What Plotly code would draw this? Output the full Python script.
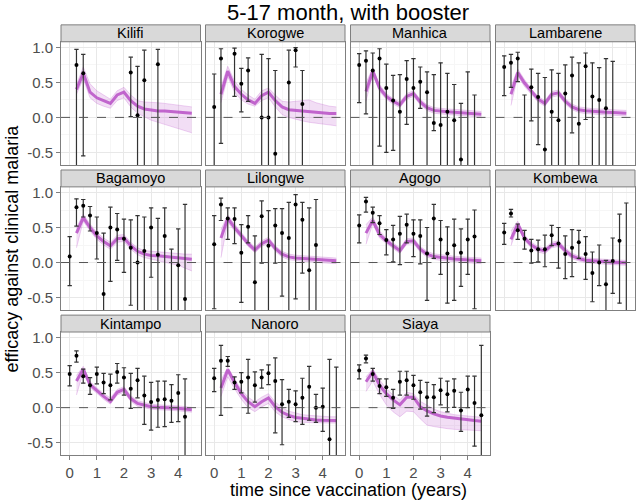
import plotly.graph_objects as go

W, H = 638, 500

sites = ["Kilifi", "Korogwe", "Manhica", "Lambarene",
         "Bagamoyo", "Lilongwe", "Agogo", "Kombewa",
         "Kintampo", "Nanoro", "Siaya"]

# time grid of the model fit (years since vaccination)
fit_t = [0.25, 0.5, 0.75, 1.0, 1.25, 1.5, 1.75, 2.0, 2.25, 2.5, 2.75, 3.0,
         3.25, 3.5, 3.75, 4.0, 4.25, 4.5]

# observed efficacy per site: time, estimate, lower, upper
kilifi_t = [0.25, 0.5, 2.25, 2.5, 2.75, 3.25]
kilifi_eff = [0.75, 0.63, 0.64, 0.03, 0.53, 0.76]
kilifi_lo = [-1.0, -0.55, 0.01, -1.0, -1.0, -1.0]
kilifi_hi = [0.97, 0.90, 0.86, 0.73, 0.96, 0.97]

korogwe_t = [0, 0.25, 0.75, 1.0, 1.25, 1.75, 2.0, 2.25, 2.75, 3.0, 3.25]
korogwe_eff = [0.15, 0.84, 0.91, 0.48, 0.67, 0.0, 0.0, -0.52, 0.50, 0.96, 0.19]
korogwe_lo = [-1.0, -0.37, 0.30, 0.08, 0.23, -1.0, -1.0, -1.0, -1.0, 0.72, -1.0]
korogwe_hi = [0.62, 0.98, 0.99, 0.70, 0.85, 0.90, 0.84, 0.67, 0.96, 0.995, 0.67]

manhica_t = [0, 0.25, 0.5, 0.75, 1.0, 1.25, 1.5, 1.75, 2.0, 2.25, 2.5, 2.75,
             3.0, 3.25, 3.5, 3.75, 4.0, 4.25]
manhica_eff = [0.75, 0.81, 0.67, 0.84, 0.42, 0.24, 0.08, 0.55, 0.42, 0.51, 0.36,
               -0.08, -0.11, 0.08, -0.04, -0.60, -0.75, -0.75]
manhica_lo = [0.21, 0.05, -1.0, -0.41, -0.50, -0.47, -1.0, -0.10, -1.0, 0.13, -1.0,
              -0.19, -1.0, -1.0, -1.0, -1.0, -1.5, -1.5]
manhica_hi = [0.91, 0.95, 0.92, 0.98, 0.76, 0.60, 0.61, 0.81, 0.84, 0.72, 0.65,
              0.61, 0.78, 0.63, 0.47, 0.20, 0.65, 0.32]

lambarene_t = [0, 0.25, 0.5, 0.75, 1.0, 1.25, 1.5, 1.75, 2.0, 2.25, 2.5, 2.75,
               3.0, 3.25, 3.5, 3.75, 4.0]
lambarene_eff = [0.72, 0.78, 0.84, -0.80, 0.43, 0.29, -0.46, 0.08, -0.04, 0.34, 0.60,
                 -0.09, 0.73, 0.30, 0.25, 0.13, -0.75]
lambarene_lo = [0.31, 0.43, 0.51, -1.5, -0.05, -0.39, -1.0, -1.0, -1.0, -1.0, -0.22,
                -1.0, -0.03, -1.0, -1.0, -1.0, -1.5]
lambarene_hi = [0.88, 0.90, 0.93, 0.32, 0.69, 0.63, 0.57, 0.68, 0.63, 0.75, 0.86,
                0.78, 0.92, 0.78, 0.71, 0.84, 0.80]

bagamoyo_t = [0, 0.25, 0.5, 0.75, 1.0, 1.25, 1.5, 1.75, 2.0, 2.25, 2.5, 2.75,
              3.0, 3.25, 3.5, 3.75, 4.0, 4.25]
bagamoyo_eff = [0.085, 0.79, 0.81, 0.67, 0.42, -0.45, 0.50, 0.47, 0.34, 0.21, 0.0,
                0.165, 0.50, 0.11, 0.38, -0.75, -0.04, -0.52]
bagamoyo_lo = [-0.33, 0.52, 0.65, 0.45, 0.05, -1.0, -0.27, 0.03, -0.14, -0.61, -1.0,
               -1.0, -0.21, -1.0, -1.0, -1.5, -1.0, -1.0]
bagamoyo_hi = [0.37, 0.91, 0.90, 0.80, 0.65, 0.42, 0.79, 0.70, 0.62, 0.61, 0.67,
               0.65, 0.78, 0.63, 0.78, 0.19, 0.48, 0.83]

lilongwe_t = [0, 0.25, 0.5, 0.75, 1.0, 1.25, 1.5, 1.75, 2.0, 2.25, 2.5, 2.75,
              3.0, 3.25, 3.5, 3.75]
lilongwe_eff = [0.26, 0.83, 0.63, 0.62, 0.14, 0.51, -0.28, 0.66, 0.24, 0.53, 0.42,
                0.35, 0.83, 0.61, -0.11, 0.25]
lilongwe_lo = [-0.66, 0.60, 0.33, 0.27, -0.57, 0.28, -1.0, -0.01, -1.0, -0.01, -0.48,
               -1.0, -0.52, -0.15, -1.0, -1.0]
lilongwe_hi = [0.67, 0.92, 0.78, 0.78, 0.54, 0.67, 0.38, 0.88, 0.74, 0.77, 0.77,
               0.86, 0.97, 0.86, 0.78, 0.90]

agogo_t = [0, 0.25, 0.5, 0.75, 1.0, 1.25, 1.5, 1.75, 2.0, 2.25, 2.5, 2.75,
           3.0, 3.25, 3.5, 3.75, 4.0, 4.25]
agogo_eff = [0.53, 0.87, 0.71, 0.56, 0.32, 0.33, 0.41, 0.54, 0.41, 0.38, 0.13,
             0.63, 0.33, 0.13, 0.245, 0.14, 0.33, 0.37]
agogo_lo = [0.28, 0.72, 0.57, 0.40, 0.11, 0.01, -0.03, 0.28, 0.085, -0.02, -0.54,
            0.06, -0.17, -0.58, -0.54, -0.34, -0.17, -0.66]
agogo_hi = [0.68, 0.93, 0.79, 0.67, 0.47, 0.53, 0.66, 0.69, 0.61, 0.61, 0.50,
            0.83, 0.60, 0.51, 0.62, 0.48, 0.62, 0.75]

kombewa_t = [0, 0.25, 0.5, 0.75, 1.0, 1.25, 1.5, 1.75, 2.0, 2.25, 2.5, 2.75,
             3.0, 3.25, 3.5, 3.75, 4.0, 4.25, 4.5]
kombewa_eff = [0.43, 0.70, 0.46, 0.34, 0.17, 0.19, 0.19, 0.39, 0.27, 0.12, 0.21,
               0.29, 0.12, -0.15, 0.0, -0.31, 0.02, 0.31, -0.80]
kombewa_lo = [0.26, 0.65, 0.33, 0.19, -0.01, 0.01, -0.06, 0.24, -0.08, -0.23, -0.20,
              0.06, -0.24, -0.56, -0.33, -1.0, -0.44, -0.58, -1.5]
kombewa_hi = [0.56, 0.76, 0.55, 0.46, 0.33, 0.32, 0.39, 0.53, 0.50, 0.38, 0.47,
              0.46, 0.37, 0.15, 0.25, 0.03, 0.35, 0.69, 0.85]

kintampo_t = [0, 0.25, 0.5, 0.75, 1.0, 1.25, 1.5, 1.75, 2.0, 2.25, 2.5, 2.75,
              3.0, 3.25, 3.5, 3.75, 4.0, 4.25]
kintampo_eff = [0.48, 0.74, 0.45, 0.32, 0.48, 0.36, 0.32, 0.51, 0.43, 0.27, 0.39,
                0.175, 0.08, 0.11, 0.12, 0.10, 0.21, -0.13]
kintampo_lo = [0.31, 0.65, 0.35, 0.19, 0.34, 0.20, 0.11, 0.35, 0.18, -0.01, 0.14,
               -0.24, -0.32, -0.28, -0.27, -0.21, -0.20, -1.0]
kintampo_hi = [0.60, 0.81, 0.55, 0.43, 0.58, 0.49, 0.48, 0.63, 0.57, 0.49, 0.56,
               0.45, 0.36, 0.38, 0.38, 0.33, 0.47, 0.41]

nanoro_t = [0, 0.25, 0.5, 0.75, 1.0, 1.25, 1.5, 1.75, 2.0, 2.25, 2.5, 2.75,
            3.0, 3.25, 3.5, 3.75, 4.0, 4.25, 4.5]
nanoro_eff = [0.42, 0.67, 0.67, 0.36, 0.37, 0.43, 0.32, 0.43, 0.49, 0.38, 0.05,
              0.085, 0.05, 0.14, 0.30, 0.0, 0.014, -0.45, -0.80]
nanoro_lo = [0.23, -0.11, 0.59, 0.26, 0.21, -0.08, 0.08, 0.28, 0.33, -0.36, -0.53,
             -0.14, -0.20, -0.24, -0.18, -0.21, -0.34, -1.0, -1.5]
nanoro_hi = [0.56, 0.89, 0.73, 0.44, 0.50, 0.69, 0.51, 0.54, 0.61, 0.71, 0.40,
             0.26, 0.24, 0.42, 0.59, 0.19, 0.28, 0.69, 0.58]

siaya_t = [0, 0.25, 0.5, 0.75, 1.0, 1.25, 1.5, 1.75, 2.0, 2.25, 2.5, 2.75,
           3.0, 3.25, 3.5, 3.75, 4.0, 4.25, 4.5]
siaya_eff = [0.53, 0.70, 0.48, 0.31, 0.29, 0.14, 0.37, 0.39, 0.32, 0.22, 0.15,
             0.15, 0.25, 0.19, 0.24, -0.04, 0.26, 0.066, -0.11]
siaya_lo = [0.41, 0.64, 0.38, 0.20, 0.16, -0.01, 0.18, 0.18, 0.12, -0.02, -0.12,
            -0.07, 0.04, -0.06, 0.005, -0.34, 0.0, -0.55, -1.0]
siaya_hi = [0.61, 0.75, 0.56, 0.41, 0.41, 0.26, 0.52, 0.52, 0.46, 0.39, 0.36,
            0.33, 0.42, 0.38, 0.41, 0.22, 0.45, 0.45, 0.89]

# model fit per site: mean, lower and upper band on fit_t
kilifi_fit = [0.40, 0.63, 0.36, 0.28, 0.24, 0.20, 0.32, 0.36, 0.24, 0.16, 0.12, 0.10,
              0.09, 0.09, 0.085, 0.08, 0.065, 0.06]
kilifi_fit_lo = [0.33, 0.55, 0.28, 0.20, 0.16, 0.13, 0.24, 0.28, 0.15, 0.06, 0.01, -0.04,
                 -0.07, -0.10, -0.13, -0.16, -0.19, -0.22]
kilifi_fit_hi = [0.47, 0.72, 0.48, 0.38, 0.32, 0.26, 0.38, 0.43, 0.32, 0.24, 0.22, 0.22,
                 0.21, 0.20, 0.19, 0.18, 0.16, 0.15]

korogwe_fit = [0.33, 0.66, 0.44, 0.33, 0.25, 0.20, 0.31, 0.36, 0.24, 0.15, 0.11, 0.10,
               0.095, 0.09, 0.075, 0.06, 0.055, 0.055]
korogwe_fit_lo = [0.21, 0.58, 0.36, 0.25, 0.19, 0.16, 0.24, 0.28, 0.15, 0.04, 0.0, -0.03,
                  -0.05, -0.07, -0.08, -0.10, -0.11, -0.12]
korogwe_fit_hi = [0.44, 0.73, 0.52, 0.40, 0.32, 0.26, 0.38, 0.42, 0.32, 0.23, 0.22, 0.23,
                  0.24, 0.25, 0.21, 0.18, 0.16, 0.15]

manhica_fit = [0.37, 0.66, 0.42, 0.30, 0.23, 0.18, 0.30, 0.34, 0.22, 0.14, 0.10, 0.085,
               0.08, 0.075, 0.065, 0.055, 0.05, 0.045]
manhica_fit_lo = [0.23, 0.61, 0.37, 0.26, 0.19, 0.14, 0.26, 0.30, 0.18, 0.10, 0.06, 0.045,
                  0.04, 0.035, 0.025, 0.015, 0.01, 0.005]
manhica_fit_hi = [0.49, 0.71, 0.47, 0.34, 0.27, 0.22, 0.34, 0.38, 0.26, 0.18, 0.14, 0.125,
                  0.12, 0.115, 0.105, 0.095, 0.09, 0.085]

lambarene_fit = [0.33, 0.64, 0.49, 0.37, 0.26, 0.20, 0.33, 0.35, 0.23, 0.15, 0.11, 0.095,
                 0.085, 0.08, 0.075, 0.07, 0.065, 0.06]
lambarene_fit_lo = [0.17, 0.59, 0.44, 0.33, 0.22, 0.16, 0.29, 0.31, 0.19, 0.11, 0.07, 0.055,
                    0.045, 0.04, 0.035, 0.03, 0.025, 0.02]
lambarene_fit_hi = [0.44, 0.69, 0.54, 0.41, 0.30, 0.24, 0.37, 0.39, 0.27, 0.19, 0.15, 0.135,
                    0.125, 0.12, 0.115, 0.11, 0.105, 0.10]

bagamoyo_fit = [0.42, 0.64, 0.50, 0.38, 0.30, 0.24, 0.34, 0.35, 0.24, 0.16, 0.12, 0.10,
                0.095, 0.085, 0.075, 0.06, 0.05, 0.047]
bagamoyo_fit_lo = [0.21, 0.59, 0.45, 0.33, 0.25, 0.19, 0.29, 0.30, 0.19, 0.11, 0.07, 0.05,
                   0.03, 0.01, -0.01, -0.04, -0.08, -0.12]
bagamoyo_fit_hi = [0.50, 0.69, 0.55, 0.43, 0.35, 0.29, 0.39, 0.40, 0.29, 0.21, 0.17, 0.16,
                   0.16, 0.15, 0.14, 0.13, 0.12, 0.12]

lilongwe_fit = [0.35, 0.63, 0.50, 0.39, 0.27, 0.18, 0.27, 0.32, 0.20, 0.12, 0.08, 0.065,
                0.057, 0.052, 0.042, 0.033, 0.028, 0.024]
lilongwe_fit_lo = [0.07, 0.58, 0.45, 0.35, 0.23, 0.14, 0.23, 0.28, 0.16, 0.08, 0.04, 0.025,
                   0.017, 0.012, 0.002, -0.007, -0.012, -0.016]
lilongwe_fit_hi = [0.47, 0.68, 0.55, 0.43, 0.31, 0.22, 0.31, 0.36, 0.24, 0.16, 0.12, 0.105,
                   0.097, 0.092, 0.082, 0.073, 0.068, 0.064]

agogo_fit = [0.42, 0.60, 0.40, 0.31, 0.24, 0.17, 0.30, 0.31, 0.19, 0.12, 0.085, 0.07,
             0.06, 0.05, 0.042, 0.033, 0.028, 0.024]
agogo_fit_lo = [0.26, 0.55, 0.35, 0.27, 0.20, 0.13, 0.26, 0.27, 0.15, 0.08, 0.045, 0.03,
                0.02, 0.01, 0.002, -0.007, -0.012, -0.016]
agogo_fit_hi = [0.54, 0.65, 0.45, 0.35, 0.28, 0.21, 0.34, 0.35, 0.23, 0.16, 0.125, 0.11,
                0.10, 0.09, 0.082, 0.073, 0.068, 0.064]

kombewa_fit = [0.33, 0.55, 0.35, 0.25, 0.19, 0.165, 0.25, 0.27, 0.17, 0.094, 0.057, 0.033,
               0.024, 0.014, 0.01, 0.005, 0.0, -0.005]
kombewa_fit_lo = [0.24, 0.51, 0.31, 0.21, 0.15, 0.125, 0.21, 0.23, 0.13, 0.054, 0.022, -0.002,
                  -0.011, -0.021, -0.025, -0.03, -0.035, -0.04]
kombewa_fit_hi = [0.45, 0.59, 0.39, 0.29, 0.23, 0.205, 0.29, 0.31, 0.21, 0.134, 0.092, 0.068,
                  0.059, 0.049, 0.045, 0.04, 0.035, 0.03]

kintampo_fit = [0.38, 0.55, 0.33, 0.24, 0.16, 0.09, 0.22, 0.26, 0.13, 0.06, 0.033, 0.014,
                0.005, -0.005, -0.005, -0.01, -0.02, -0.03]
kintampo_fit_lo = [0.18, 0.51, 0.29, 0.20, 0.12, 0.05, 0.18, 0.22, 0.09, 0.02, -0.004, -0.022,
                   -0.03, -0.04, -0.04, -0.045, -0.055, -0.065]
kintampo_fit_hi = [0.46, 0.59, 0.37, 0.28, 0.20, 0.14, 0.26, 0.30, 0.17, 0.10, 0.07, 0.05,
                   0.04, 0.03, 0.03, 0.025, 0.015, 0.005]

nanoro_fit = [0.28, 0.54, 0.36, 0.20, 0.085, 0.014, 0.085, 0.14, 0.014, -0.066, -0.11, -0.14,
              -0.15, -0.166, -0.175, -0.18, -0.185, -0.185]
nanoro_fit_lo = [0.16, 0.44, 0.27, 0.12, 0.0, -0.057, 0.01, 0.06, -0.06, -0.13, -0.17, -0.20,
                 -0.21, -0.215, -0.22, -0.22, -0.22, -0.22]
nanoro_fit_hi = [0.39, 0.58, 0.41, 0.26, 0.15, 0.085, 0.15, 0.20, 0.08, 0.0, -0.05, -0.08,
                 -0.10, -0.11, -0.12, -0.125, -0.13, -0.13]

siaya_fit = [0.37, 0.51, 0.32, 0.20, 0.11, 0.04, 0.15, 0.15, 0.014, -0.047, -0.09, -0.12,
             -0.137, -0.15, -0.166, -0.175, -0.185, -0.194]
siaya_fit_lo = [0.23, 0.38, 0.19, 0.04, -0.06, -0.13, -0.05, -0.057, -0.16, -0.25, -0.27, -0.29,
                -0.30, -0.31, -0.315, -0.32, -0.325, -0.33]
siaya_fit_hi = [0.44, 0.55, 0.40, 0.27, 0.18, 0.11, 0.22, 0.20, 0.09, 0.04, -0.02, -0.057,
                -0.08, -0.10, -0.11, -0.12, -0.13, -0.137]

x_ticks = [0, 1, 2, 3, 4]
y_ticks = [1.0, 0.5, 0.0, -0.5]
y_tick_labels = ["1.0", "0.5", "0.0", "-0.5"]

obs = {
    "Kilifi": (kilifi_t, kilifi_eff, kilifi_lo, kilifi_hi),
    "Korogwe": (korogwe_t, korogwe_eff, korogwe_lo, korogwe_hi),
    "Manhica": (manhica_t, manhica_eff, manhica_lo, manhica_hi),
    "Lambarene": (lambarene_t, lambarene_eff, lambarene_lo, lambarene_hi),
    "Bagamoyo": (bagamoyo_t, bagamoyo_eff, bagamoyo_lo, bagamoyo_hi),
    "Lilongwe": (lilongwe_t, lilongwe_eff, lilongwe_lo, lilongwe_hi),
    "Agogo": (agogo_t, agogo_eff, agogo_lo, agogo_hi),
    "Kombewa": (kombewa_t, kombewa_eff, kombewa_lo, kombewa_hi),
    "Kintampo": (kintampo_t, kintampo_eff, kintampo_lo, kintampo_hi),
    "Nanoro": (nanoro_t, nanoro_eff, nanoro_lo, nanoro_hi),
    "Siaya": (siaya_t, siaya_eff, siaya_lo, siaya_hi),
}
fits = {
    "Kilifi": (kilifi_fit, kilifi_fit_lo, kilifi_fit_hi),
    "Korogwe": (korogwe_fit, korogwe_fit_lo, korogwe_fit_hi),
    "Manhica": (manhica_fit, manhica_fit_lo, manhica_fit_hi),
    "Lambarene": (lambarene_fit, lambarene_fit_lo, lambarene_fit_hi),
    "Bagamoyo": (bagamoyo_fit, bagamoyo_fit_lo, bagamoyo_fit_hi),
    "Lilongwe": (lilongwe_fit, lilongwe_fit_lo, lilongwe_fit_hi),
    "Agogo": (agogo_fit, agogo_fit_lo, agogo_fit_hi),
    "Kombewa": (kombewa_fit, kombewa_fit_lo, kombewa_fit_hi),
    "Kintampo": (kintampo_fit, kintampo_fit_lo, kintampo_fit_hi),
    "Nanoro": (nanoro_fit, nanoro_fit_lo, nanoro_fit_hi),
    "Siaya": (siaya_fit, siaya_fit_lo, siaya_fit_hi),
}

# panel geometry in pixels
col_left = [61, 205.5, 350.5, 495.5]
panel_w = 139.5
row_top = [39, 185, 331]
panel_h = 124
strip_h = 17
cap = 0.08  # half width of the error bar caps, in years

FONT = "Liberation Sans, Arial, sans-serif"
PURPLE = "rgba(180, 70, 195, 0.8)"
BAND = "rgba(190, 90, 205, 0.2)"
BAND_EDGE = "rgba(190, 90, 205, 0.45)"

fig = go.Figure()
shapes = []
annotations = []

for i, site in enumerate(sites):
    r, c = divmod(i, 4)
    n = i + 1
    xa = "x" if n == 1 else f"x{n}"
    ya = "y" if n == 1 else f"y{n}"
    left, top = col_left[c], row_top[r]

    fit, fit_lo, fit_hi = fits[site]
    fig.add_trace(go.Scatter(x=fit_t, y=fit_lo, mode="lines",
                             line=dict(color=BAND_EDGE, width=0.6),
                             xaxis=xa, yaxis=ya, hoverinfo="skip"))
    fig.add_trace(go.Scatter(x=fit_t, y=fit_hi, mode="lines", fill="tonexty",
                             fillcolor=BAND, line=dict(color=BAND_EDGE, width=0.6),
                             xaxis=xa, yaxis=ya, hoverinfo="skip"))
    fig.add_trace(go.Scatter(x=fit_t, y=fit, mode="lines",
                             line=dict(color=PURPLE, width=3),
                             xaxis=xa, yaxis=ya))

    # error bars as clipped line segments: whisker plus two caps
    t, eff, lo, hi = obs[site]
    ex, ey = [], []
    for tt, l, h in zip(t, lo, hi):
        ex += [tt, tt, None, tt - cap, tt + cap, None, tt - cap, tt + cap, None]
        ey += [l, h, None, l, l, None, h, h, None]
    fig.add_trace(go.Scatter(x=ex, y=ey, mode="lines",
                             line=dict(color="#333333", width=1.2),
                             xaxis=xa, yaxis=ya, hoverinfo="skip"))
    fig.add_trace(go.Scatter(x=t, y=eff, mode="markers",
                             marker=dict(color="black", size=4),
                             xaxis=xa, yaxis=ya))

    show_x = r == 2
    show_y = c == 0
    axis_common = dict(showline=True, mirror=True, linecolor="#7F7F7F", linewidth=1,
                       showgrid=True, gridcolor="#E8E8E8", gridwidth=1, zeroline=False,
                       tickfont=dict(family=FONT, size=15, color="#4D4D4D"),
                       ticklen=4, tickcolor="#7F7F7F")
    fig.update_layout({
        ("xaxis" if n == 1 else f"xaxis{n}"): dict(
            axis_common, domain=[left / W, (left + panel_w) / W], anchor=ya,
            range=[-0.32, 4.82], tickvals=x_ticks, showticklabels=show_x,
            ticks="outside" if show_x else "",
            minor=dict(tickvals=[0.5, 1.5, 2.5, 3.5, 4.5], showgrid=True,
                       gridcolor="#F6F6F6", gridwidth=1)),
        ("yaxis" if n == 1 else f"yaxis{n}"): dict(
            axis_common, domain=[1 - (top + panel_h) / H, 1 - top / H], anchor=xa,
            range=[-0.68, 1.08], tickvals=y_ticks, ticktext=y_tick_labels,
            showticklabels=show_y, ticks="outside" if show_y else "",
            minor=dict(tickvals=[0.75, 0.25, -0.25], showgrid=True,
                       gridcolor="#F6F6F6", gridwidth=1)),
    })

    # dashed reference line at zero
    shapes.append(dict(type="line", xref=f"{xa} domain", yref=ya, x0=0, x1=1, y0=0, y1=0,
                       line=dict(color="#555555", width=1, dash="dash"), layer="above"))
    # facet strip
    shapes.append(dict(type="rect", xref="paper", yref="paper",
                       x0=left / W, x1=(left + panel_w) / W,
                       y0=1 - top / H, y1=1 - (top - strip_h) / H,
                       fillcolor="#D9D9D9", line=dict(color="#7F7F7F", width=1)))
    annotations.append(dict(text=site, xref="paper", yref="paper",
                            x=(left + panel_w / 2) / W, y=1 - (top - strip_h / 2) / H,
                            showarrow=False, xanchor="center", yanchor="middle",
                            font=dict(family=FONT, size=14.5, color="black")))

annotations.append(dict(text="time since vaccination (years)", xref="paper", yref="paper",
                        x=348 / W, y=1 - 490 / H, showarrow=False,
                        xanchor="center", yanchor="middle",
                        font=dict(family=FONT, size=18, color="black")))
annotations.append(dict(text="efficacy against clinical malaria", xref="paper", yref="paper",
                        x=12 / W, y=1 - 247 / H, showarrow=False, textangle=-90,
                        xanchor="center", yanchor="middle",
                        font=dict(family=FONT, size=18, color="black")))

fig.update_layout(
    width=W, height=H,
    margin=dict(l=0, r=0, t=0, b=0),
    paper_bgcolor="white",
    plot_bgcolor="white",
    showlegend=False,
    title=dict(text="5-17 month, with booster", x=348 / W, xanchor="center",
               y=1 - 12 / H, yanchor="middle",
               font=dict(family=FONT, size=22, color="black")),
    shapes=shapes,
    annotations=annotations,
)

# drop the default page margin so the figure sits at the window's corner
fig.write_html("out.html", config={"displayModeBar": False},
               post_script="document.body.style.margin = '0';")
